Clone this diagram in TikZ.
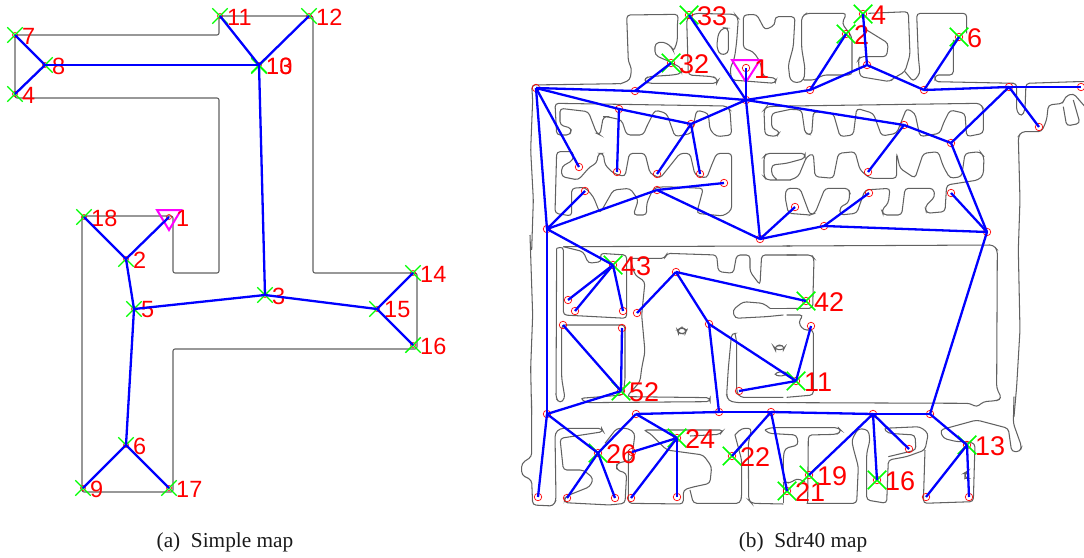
\documentclass[tikz,border=0pt]{standalone}
\usepackage{fontspec}
\setmainfont{Liberation Serif}
\newfontfamily\lblfont{Liberation Sans}
\usetikzlibrary{shapes.misc}
\definecolor{wallc}{gray}{0.38}
\definecolor{gcross}{rgb}{0,1,0}
\definecolor{rlabel}{rgb}{1,0,0}
\definecolor{bline}{rgb}{0,0,1}
\definecolor{startc}{rgb}{1,0,1}
\tikzset{
  wall/.style={draw=wallc,line width=1.1pt,rounded corners=2pt},
  rwall/.style={draw=wallc,line width=1.05pt,rounded corners=3.5pt},
  edgeline/.style={draw=bline,line width=2.3pt},
  waypt/.style={circle,draw=rlabel,line width=0.6pt,minimum size=5pt,inner sep=0pt},
  waypb/.style={circle,draw=rlabel,line width=0.7pt,minimum size=7.5pt,inner sep=0pt},
  goalbox/.style={cross out,draw=gcross,line width=1.4pt,minimum size=14pt,inner sep=0pt},
  goalboxb/.style={cross out,draw=gcross,line width=1.5pt,minimum size=17pt,inner sep=0pt},
  numa/.style={text=rlabel,anchor=west,inner sep=0pt,font=\lblfont\fontsize{23.5}{23.5}\selectfont},
  numb/.style={text=rlabel,anchor=west,inner sep=0pt,font=\lblfont\fontsize{27}{27}\selectfont},
  startmark/.style={draw=startc,line width=2pt},
  capt/.style={font=\fontsize{21.3}{21.3}\selectfont,text=black!90,inner sep=0pt}
}
\newcommand{\goalA}[4]{\node[waypt] (#1) at (#2,#3) {};\node[goalbox] (#1x) at (#2,#3) {};\node[numa] (#1t) at (#2+7,#3+1) {#4};}
\newcommand{\goalB}[4]{\node[waypb] (#1) at (#2,#3) {};\node[goalboxb] (#1x) at (#2,#3) {};\node[numb] (#1t) at (#2+8,#3+1) {#4};}
\newcommand{\wpB}[3]{\node[waypb] (#1) at (#2,#3) {};}
\newcommand{\edges}[1]{\foreach \u/\v in {#1} {\draw[edgeline] (\u.center) -- (\v.center);}}
\begin{document}
\begin{tikzpicture}[x=1pt,y=-1pt]
\useasboundingbox (0,0) rectangle (1084,557);
% ---- simple map walls
\draw[wall] (15,35) -- (219,35) -- (219,16) -- (313,16) -- (313,273) -- (417,273) -- (417,349) -- (173,349) -- (173,492) -- (82,492) -- (82,216) -- (173,216) -- (173,273) -- (219,273) -- (219,98) -- (15,98) -- cycle;
% ---- simple map graph
\goalA{a7}{15}{35}{7}
\goalA{a8}{45}{65}{8}
\goalA{a4}{15}{94}{4}
\goalA{a11}{220}{16}{11}
\goalA{a12}{309}{16}{12}
\goalA{a10}{259}{65}{10}
\node[goalbox] (a13x) at (259,66) {};
\node[numa] (a13t) at (266,66) {13};
\goalA{a18}{84}{217}{18}
\goalA{a2}{126}{259}{2}
\goalA{a5}{134}{309}{5}
\goalA{a3}{265}{295}{3}
\goalA{a15}{377}{309}{15}
\goalA{a14}{413}{273}{14}
\goalA{a16}{413}{345}{16}
\goalA{a6}{126}{445}{6}
\goalA{a9}{83}{488}{9}
\goalA{a17}{169}{488}{17}
\node[waypt] (a1) at (169,217) {};
\coordinate (tr1a) at (157,210);\coordinate (tr1b) at (181,210);\coordinate (tr1c) at (169,230);
\draw[startmark] (tr1a) -- (tr1b) -- (tr1c) -- cycle;
\edges{a7/a8,a4/a8,a8/a10,a11/a10,a12/a10,a10/a3,a3/a5,a3/a15,a15/a14,a15/a16,a5/a2,a2/a1,a2/a18,a5/a6,a6/a9,a6/a17}
\node[numa] (a1t) at (176,218) {1};
% ---- Sdr40 walls, traced in 3x crop coordinates
\begin{scope}[shift={(620,5)},x=0.3333pt,y=-0.3333pt]
\draw[rwall] (0,237) -- (30,225) -- (35,190) -- (25,170) -- (20,30) -- (175,28) -- (172,60) -- (172,110) -- (160,140) -- (155,125) -- (130,110) -- (105,115) -- (105,150) -- (125,160) -- (150,170) -- (185,190) -- (185,205) -- (160,210) -- (85,215) -- (70,225) -- (85,235) -- (290,235) -- (295,225) -- (280,215) -- (205,210) -- (200,40) -- (225,25) -- (345,28) -- (355,40) -- (350,110) -- (345,150) -- (340,170) -- (330,190) -- (335,225) -- (465,235) -- (470,220) -- (430,215) -- (420,170) -- (400,140) -- (370,130) -- (370,30) -- (410,28) -- (435,75) -- (465,60) -- (465,35) -- (525,35) -- (520,125) -- (505,180) -- (510,225) -- (530,235) -- (552,225) -- (555,190) -- (545,130) -- (545,35) -- (560,25) -- (680,25) -- (666,55) -- (696,96) -- (696,210) -- (609,210) -- (585,225) -- (552,225);
\draw[rwall] (290,125) -- (295,85) -- (310,68) -- (325,70) -- (325,145) -- (300,150) -- cycle;
\end{scope}
\begin{scope}[shift={(510,0)},x=0.3333pt,y=-0.3333pt]
\draw[rwall] (65,750) -- (70,600) -- (62,450) -- (68,300) -- (65,255) -- (200,253) -- (330,251);
% row 1
\draw[rwall] (135,310) -- (650,318) -- (660,330) -- (665,405) -- (620,410) -- (600,390) -- (595,340) -- (560,330) -- (545,400) -- (495,410) -- (470,340) -- (435,330) -- (410,380) -- (400,405) -- (350,405) -- (335,360) -- (290,350) -- (280,350) -- (270,405) -- (260,400) -- (235,335) -- (150,325) -- (150,375) -- (185,385) -- (180,405) -- (140,405) -- cycle;
% row 2
\draw[rwall] (140,455) -- (190,455) -- (190,480) -- (155,500) -- (155,530) -- (205,540) -- (240,500) -- (260,490) -- (265,460) -- (280,460) -- (285,495) -- (310,520) -- (345,530) -- (358,460) -- (405,460) -- (420,520) -- (450,535) -- (510,460) -- (540,460) -- (555,525) -- (590,535) -- (605,495) -- (620,460) -- (665,460) -- (665,630) -- (640,648) -- (560,640) -- (580,565) -- (460,560) -- (430,565) -- (410,610) -- (410,645) -- (370,645) -- (385,600) -- (360,565) -- (310,570) -- (270,640) -- (250,590) -- (225,562) -- (185,565) -- (185,648) -- (135,640) -- cycle;
% right parts of rows
\draw[rwall] (842,318) -- (770,320) -- (762,330) -- (765,405) -- (800,410) -- (810,395) -- (785,385) -- (785,340) -- (842,328);
\draw[rwall] (842,540) -- (770,540) -- (762,530) -- (762,470) -- (770,460) -- (885,460) -- (885,475) -- (830,490) -- (785,495) -- (785,525) -- (800,538);
\draw[rwall] (842,565) -- (830,565) -- (825,590) -- (835,640) -- (900,645);
\end{scope}
\begin{scope}[shift={(790,0)},x=0.3333pt,y=-0.3333pt]
\draw[rwall] (230,90) -- (295,130) -- (290,170) -- (210,170) -- (205,180) -- (210,230) -- (300,245) -- (310,235) -- (345,215) -- (360,165) -- (355,35) -- (235,40);
\draw[rwall] (345,215) -- (370,245) -- (390,220) -- (385,170) -- (380,40) -- (530,40) -- (530,100);
\draw[rwall] (490,120) -- (490,225) -- (435,225) -- (435,245) -- (680,250) -- (680,335) -- (695,350) -- (705,330) -- (708,250) -- (860,245) -- (885,245);
\draw[rwall] (885,320) -- (850,280) -- (825,290) -- (820,310) -- (775,315) -- (770,360) -- (755,395) -- (695,395) -- (685,410) -- (690,600) -- (685,750) -- (690,990) -- (680,1160) -- (672,1250);
\draw[rwall] (850,300) -- (870,370) -- (830,378) -- (820,320);
% row 1
\draw[rwall] (0,318) -- (570,310) -- (580,325) -- (580,400) -- (530,410) -- (525,340) -- (480,330) -- (460,370) -- (450,400) -- (390,410) -- (375,340) -- (350,325) -- (320,400) -- (275,408) -- (250,340) -- (200,325) -- (190,405) -- (150,410) -- (130,340) -- (70,335) -- (65,405) -- (45,400) -- (35,330) -- (0,328);
% row 2
\draw[rwall] (0,540) -- (25,530) -- (50,470) -- (70,460) -- (75,530) -- (130,535) -- (145,460) -- (195,455) -- (210,510) -- (240,535) -- (320,535) -- (320,460) -- (330,505) -- (375,535) -- (400,460) -- (445,455) -- (460,500) -- (480,535) -- (515,530) -- (525,460) -- (570,455) -- (582,470) -- (580,525) -- (565,540) -- (470,555) -- (465,635) -- (410,640) -- (405,620) -- (435,590) -- (430,565) -- (345,565) -- (335,645) -- (280,645) -- (275,630) -- (295,610) -- (300,565) -- (225,570) -- (200,640) -- (150,645) -- (150,620) -- (175,610) -- (180,580) -- (175,565) -- (105,565) -- (75,640) -- (60,645) -- (30,565) -- (0,565);
\end{scope}
% lower block, crop origin (510,235)
\begin{scope}[shift={(510,235)},x=0.3333pt,y=-0.3333pt]
\draw[rwall] (140,40) -- (138,490) -- (150,505) -- (165,490) -- (155,430) -- (155,270) -- (345,270) -- (345,430);
\draw[rwall] (140,40) -- (160,35) -- (160,240) -- (350,250) -- (350,60) -- (270,55) -- (275,80) -- (235,85) -- (220,50) -- (160,35);
\draw[rwall] (160,35) -- (840,33);
\draw[rwall] (360,70) -- (465,70) -- (470,55) -- (620,60) -- (625,110) -- (670,115) -- (680,60) -- (720,60) -- (720,110) -- (750,150) -- (755,60) -- (860,60);
\draw[rwall] (360,70) -- (375,120) -- (405,140) -- (395,240) -- (405,350) -- (395,400) -- (390,440) -- (350,485) -- (600,488) -- (600,500) -- (230,503) -- (210,490) -- (340,480) -- (345,430);
\draw[rwall] (780,220) -- (760,205) -- (700,200) -- (668,225) -- (675,250) -- (770,245) -- (820,240);
\draw[rwall] (780,220) -- (860,220);
\draw[rwall] (675,295) -- (680,320) -- (680,470) -- (690,487) -- (820,487);
\draw[rwall] (675,295) -- (665,295) -- (655,400) -- (650,480) -- (655,497) -- (680,503) -- (840,503);
\draw[rwall] (502,285) -- (515,277) -- (530,285) -- (525,297) -- (505,295) -- cycle;
\draw[rwall] (792,337) -- (808,330) -- (825,335) -- (820,345) -- (795,343) -- cycle;
\draw[rwall] (790,418) -- (815,408) -- (835,415) -- (815,425) -- cycle;
\draw[rwall] (60,0) -- (68,240) -- (62,400) -- (65,540);
\end{scope}
\begin{scope}[shift={(790,235)},x=0.3333pt,y=-0.3333pt]
\draw[rwall] (-10,33) -- (610,30) -- (622,45) -- (620,460) -- (635,490) -- (620,497) -- (580,500) -- (560,517) -- (540,505) -- (-10,503);
\draw[rwall] (-10,60) -- (65,60) -- (72,70) -- (68,220) -- (-10,220);
\draw[rwall] (-10,240) -- (40,240) -- (25,262) -- (40,285) -- (70,285) -- (70,480) -- (-10,487);
\end{scope}
% bottom rooms, crop origin (510,400)
\begin{scope}[shift={(510,400)},x=0.3333pt,y=-0.3333pt]
\draw[rwall] (65,0) -- (65,170) -- (35,190) -- (35,225) -- (65,240) -- (68,315) -- (130,318) -- (138,300) -- (135,100) -- (150,85) -- (275,85) -- (280,95) -- (150,115) -- (160,210) -- (220,210) -- (250,235) -- (240,260) -- (165,290) -- (163,308) -- (300,315) -- (345,310) -- (350,220) -- (320,210) -- (320,190) -- (365,180) -- (375,100) -- (355,85) -- (320,85) -- (285,130);
\draw[rwall] (355,150) -- (355,310) -- (520,312) -- (520,270) -- (545,262) -- (600,250) -- (605,200) -- (580,165) -- (470,150) -- (420,100) -- (400,90) -- (640,90) -- (630,103) -- (540,108);
\draw[rwall] (675,105) -- (695,85) -- (725,85) -- (715,130) -- (716,300) -- (725,310) -- (820,312);
\draw[rwall] (675,105) -- (695,180) -- (695,290) -- (690,310) -- (550,310) -- (540,270);
\end{scope}
\begin{scope}[shift={(725,415)},x=0.3333pt,y=-0.3333pt]
\draw[rwall] (120,45) -- (135,38) -- (340,38) -- (350,48) -- (335,58) -- (250,60) -- (248,264);
\draw[rwall] (120,45) -- (130,55) -- (215,60) -- (220,90) -- (180,100) -- (175,125) -- (175,200) -- (195,205) -- (215,190) -- (240,200);
\draw[rwall] (175,200) -- (175,265);
\end{scope}
\begin{scope}[shift={(790,400)},x=0.3333pt,y=-0.3333pt]
\draw[rwall] (50,310) -- (200,310) -- (205,200) -- (190,145) -- (185,120) -- (205,85) -- (235,90) -- (240,120) -- (230,160) -- (230,300) -- (290,310) -- (295,180) -- (350,170) -- (405,150) -- (415,100) -- (390,80) -- (280,85) -- (295,100) -- (375,105) -- (378,150) -- (295,170);
\draw[rwall] (405,150) -- (400,310) -- (550,305) -- (555,130) -- (525,125) -- (500,125) -- (460,115) -- (450,90) -- (560,60) -- (655,85) -- (665,155) -- (690,155) -- (695,140) -- (670,70) -- (672,-10);
\draw[rwall] (525,218) -- (530,215) -- (540,235) -- (525,235) -- cycle;
\end{scope}
% ---- Sdr40 graph
\wpB{A}{536}{88}\wpB{B}{635}{91}\wpB{Cc}{746}{100}\wpB{Dd}{691}{124}\wpB{Ee}{619}{109}
\wpB{Ff}{579}{167}\wpB{Gg}{617}{172}\wpB{Hh}{657}{174}\wpB{Ii}{700}{174}
\wpB{Jj}{585}{191}\wpB{Kk}{657}{190}\wpB{Ll}{724}{183}\wpB{Mm}{547}{229}
\wpB{Nn}{760}{239}\wpB{Oo}{795}{207}\wpB{Pp}{810}{90}\wpB{Qq}{867}{65}\wpB{Rr}{924}{90}
\wpB{Ss}{1009}{87}\wpB{Tt}{1081}{87}\wpB{Uu}{1039}{127}\wpB{Vv}{951}{143}\wpB{Ww}{904}{125}
\wpB{Xx}{868}{172}\wpB{Yy}{869}{193}\wpB{Zz}{951}{193}\wpB{Aa}{824}{226}\wpB{Bb}{987}{232}
\wpB{c1}{568}{300}\wpB{c2}{575}{311}\wpB{c3}{623}{311}\wpB{c4}{637}{313}\wpB{c5}{676}{272}\wpB{c6}{709}{324}
\wpB{c7}{739}{391}\wpB{c8}{811}{326}\wpB{c9}{563}{325}\wpB{d1}{622}{328}
\wpB{Dl}{547}{414}\wpB{El}{636}{414}\wpB{Fl}{719}{412}\wpB{Gl}{771}{412}\wpB{Hl}{873}{414}\wpB{Il}{930}{414}
\wpB{e1}{538}{497}\wpB{e2}{567}{498}\wpB{e3}{615}{498}\wpB{e4}{632}{452}\wpB{e5}{631}{498}\wpB{e6}{677}{497}
\wpB{e7}{909}{449}\wpB{e8}{926}{497}\wpB{e9}{969}{497}
\goalB{b33}{689}{15}{33}
\goalB{b32}{671}{63}{32}
\goalB{b2}{846}{34}{2}
\goalB{b4}{863}{14}{4}
\goalB{b6}{959}{37}{6}
\goalB{b43}{613}{265}{43}
\goalB{b42}{806}{301}{42}
\goalB{b11}{796}{381}{11}
\goalB{b52}{621}{391}{52}
\goalB{b26}{598}{453}{26}
\goalB{b24}{677}{438}{24}
\goalB{b22}{732}{456}{22}
\goalB{b21}{787}{491}{21}
\goalB{b19}{809}{475}{19}
\goalB{b16}{877}{480}{16}
\goalB{b13}{967}{445}{13}
\node[waypb] (b1) at (746,68) {};
\coordinate (tr2a) at (732,60);\coordinate (tr2b) at (760,60);\coordinate (tr2c) at (746,82);
\draw[startmark] (tr2a) -- (tr2b) -- (tr2c) -- cycle;
\edges{A/Mm,A/Ff,A/B,B/Cc,B/b32,A/Ee,Ee/Dd,Ee/Gg,Dd/Hh,Dd/Ii,Dd/Cc,Cc/b1,Cc/b33,Cc/Nn,Cc/Pp,Pp/b2,Pp/Qq,Qq/b4,Qq/Rr,Rr/b6,Rr/Ss,Ss/Tt,Ss/Uu,Ss/Vv,Cc/Ww,Ww/Vv,Ww/Xx,Vv/Bb,Bb/Zz,Bb/Aa,Aa/Yy,Aa/Nn,Nn/Oo,Nn/Kk,Mm/Jj,Mm/Kk,Kk/Ll,Mm/Dl,Mm/b43,b43/c1,b43/c2,b43/c3,c4/c5,c5/b42,c5/c6,c6/Fl,c6/b11,b11/c7,b11/c8,b52/c9,b52/d1,b52/Dl,Dl/e1,Dl/b26,b26/e2,b26/e3,b26/El,El/b24,b24/e4,b24/e5,b24/e6,El/Fl,Fl/Gl,Gl/Hl,Hl/Il,Gl/b22,Gl/b21,Hl/b19,Hl/b16,Hl/e7,Il/b13,b13/e8,b13/e9,Il/Bb}
\node[numb] (b1t) at (754,69) {1};
% captions
\node[capt] (capa) at (225,542) {(a)\ \ Simple map};
\node[capt] (capb) at (803,542) {(b)\ \ Sdr40 map};
\end{tikzpicture}
\end{document}
